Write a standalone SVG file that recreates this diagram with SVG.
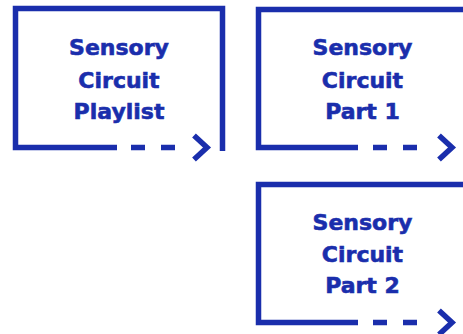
<svg xmlns="http://www.w3.org/2000/svg" width="463" height="334" viewBox="0 0 463 334">
<style>
.frame{fill:none;stroke:#1a2eac;stroke-width:5.5;stroke-linecap:butt;stroke-linejoin:miter}
.dash{fill:none;stroke:#1a2eac;stroke-width:5.5;stroke-dasharray:14 16}
.chev{fill:none;stroke:#1a2eac;stroke-width:5.5;stroke-linecap:butt;stroke-linejoin:miter}
.lbl{font-family:"DejaVu Sans","Liberation Sans",sans-serif;font-weight:bold;font-size:22px;fill:#1a2eac;stroke:#1a2eac;stroke-width:0.6;text-anchor:middle}
</style>
<rect width="463" height="334" fill="#ffffff"/>
<g id="node-playlist">
<path class="frame" d="M222.5 151 V8.5 H15.5 V147.5 H117"/>
<text class="lbl" x="119" y="55">Sensory</text>
<text class="lbl" x="119" y="88">Circuit</text>
<text class="lbl" x="119" y="119">Playlist</text>
</g>
<g id="node-part1">
<path class="frame" d="M470 9.5 H258.5 V147.5 H358"/>
<text class="lbl" x="362.5" y="55">Sensory</text>
<text class="lbl" x="362.5" y="88">Circuit</text>
<text class="lbl" x="362.5" y="119">Part 1</text>
</g>
<g id="node-part2">
<path class="frame" d="M470 184.5 H258.5 V322.5 H358"/>
<text class="lbl" x="362.5" y="230">Sensory</text>
<text class="lbl" x="362.5" y="262">Circuit</text>
<text class="lbl" x="362.5" y="293">Part 2</text>
</g>
<g id="connectors">
<path class="dash" d="M131 147.5 H177"/>
<polyline class="chev" points="194,135.5 207,147.5 194,159.5"/>
<path class="dash" d="M373 147.5 H419"/>
<polyline class="chev" points="439,135.5 452,147.5 439,159.5"/>
<path class="dash" d="M373 322.5 H419"/>
<polyline class="chev" points="439,310.5 452,322.5 439,334.5"/>
</g>
</svg>
